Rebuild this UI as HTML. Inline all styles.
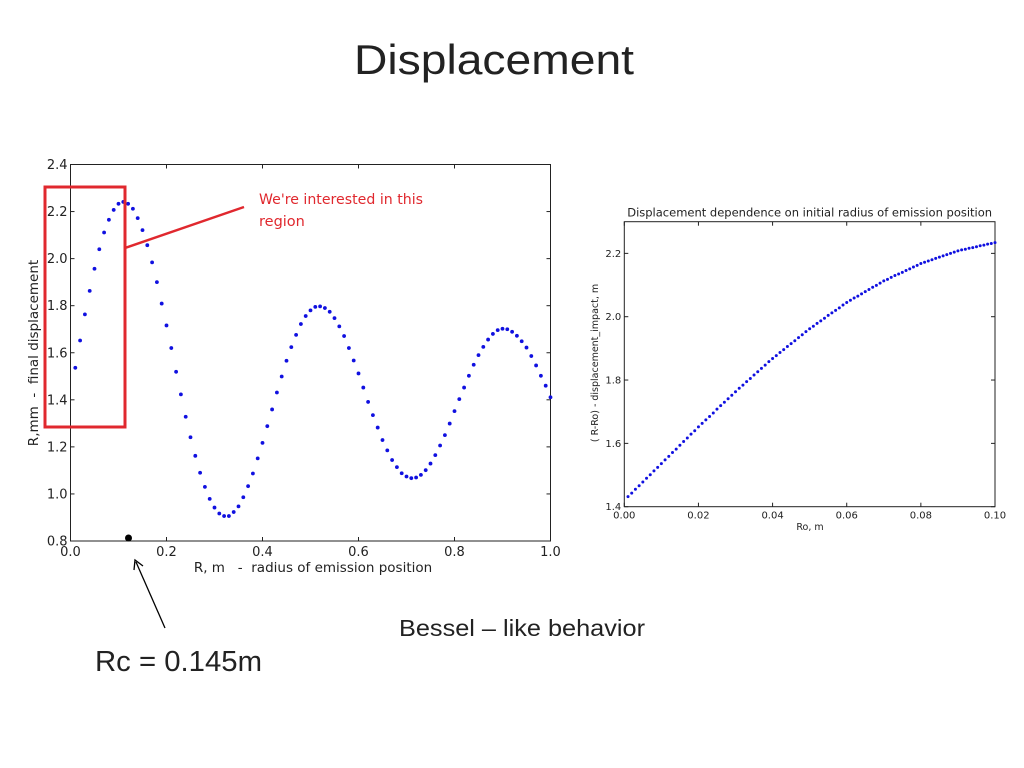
<!DOCTYPE html>
<html><head><meta charset="utf-8"><style>
html,body{margin:0;padding:0;background:#fff;width:1024px;height:768px;overflow:hidden}
svg{display:block}
text{font-family:"DejaVu Sans","Liberation Sans",sans-serif}
.big{font-family:"Liberation Sans",sans-serif}
</style></head><body>
<svg id="s" width="1024" height="768" viewBox="0 0 1024 768">
<text class="big" x="354" y="74" font-size="42" textLength="280" lengthAdjust="spacingAndGlyphs" fill="#222">Displacement</text>
<text class="big" x="399" y="636" font-size="23" textLength="246" lengthAdjust="spacingAndGlyphs" fill="#222">Bessel – like behavior</text>
<text class="big" x="95" y="671" font-size="29" textLength="167" lengthAdjust="spacingAndGlyphs" fill="#222">Rc = 0.145m</text>
<g id="left"></g>
<g id="right"></g>
<rect x="45" y="187" width="80" height="240" fill="none" stroke="#e0282e" stroke-width="3"/>
<line x1="125" y1="248" x2="244" y2="207" stroke="#e0282e" stroke-width="2.5"/>
<text x="259" y="204" font-size="14.5" textLength="164" lengthAdjust="spacingAndGlyphs" fill="#e0282e">We're interested in this</text>
<text x="259" y="226" font-size="14.5" fill="#e0282e">region</text>
<circle cx="128.5" cy="538" r="3.5" fill="#000"/>
<line x1="165" y1="628" x2="136" y2="562" stroke="#000" stroke-width="1.3"/>
<polyline points="134,570 135,560 143,566" fill="none" stroke="#000" stroke-width="1.3"/>
</svg>
<script>
const leftY = [1.536,1.652,1.763,1.863,1.957,2.040,2.111,2.165,2.207,2.233,2.241,2.233,2.212,2.172,2.121,2.057,1.984,1.900,1.809,1.716,1.620,1.519,1.423,1.328,1.241,1.162,1.090,1.030,0.979,0.942,0.917,0.906,0.906,0.923,0.947,0.986,1.033,1.087,1.151,1.217,1.288,1.359,1.431,1.499,1.566,1.624,1.676,1.722,1.756,1.780,1.795,1.797,1.790,1.774,1.747,1.712,1.671,1.620,1.567,1.512,1.452,1.391,1.335,1.282,1.229,1.185,1.144,1.114,1.088,1.074,1.067,1.070,1.081,1.101,1.129,1.165,1.206,1.250,1.299,1.352,1.403,1.452,1.502,1.549,1.590,1.625,1.656,1.680,1.696,1.702,1.700,1.689,1.672,1.649,1.622,1.586,1.546,1.502,1.460,1.411];
const leftXTicks = ["0.0","0.2","0.4","0.6","0.8","1.0"];
const leftYTicks = ["0.8","1.0","1.2","1.4","1.6","1.8","2.0","2.2","2.4"];
const rightY = [1.432,1.443,1.455,1.466,1.478,1.490,1.501,1.513,1.524,1.536,1.548,1.559,1.571,1.582,1.594,1.606,1.617,1.629,1.640,1.652,1.663,1.674,1.685,1.696,1.708,1.719,1.730,1.741,1.752,1.763,1.774,1.784,1.795,1.805,1.816,1.826,1.837,1.847,1.858,1.868,1.877,1.887,1.896,1.906,1.915,1.924,1.934,1.943,1.953,1.962,1.970,1.979,1.987,1.995,2.004,2.012,2.020,2.028,2.037,2.045,2.052,2.059,2.065,2.072,2.079,2.086,2.093,2.099,2.106,2.113,2.118,2.124,2.130,2.135,2.140,2.146,2.151,2.157,2.162,2.168,2.172,2.176,2.180,2.184,2.188,2.192,2.196,2.200,2.204,2.208,2.211,2.213,2.216,2.218,2.221,2.224,2.226,2.229,2.231,2.234];
const rightXTicks = ["0.00","0.02","0.04","0.06","0.08","0.10"];
const rightYTicks = ["1.4","1.6","1.8","2.0","2.2"];

const NS="http://www.w3.org/2000/svg";
function mk(p,tag,attrs){const e=document.createElementNS(NS,tag);for(const k in attrs)e.setAttribute(k,attrs[k]);p.appendChild(e);return e;}

function chart(g,o){
  const sx=v=>o.x0+(v-o.xmin)/(o.xmax-o.xmin)*(o.x1-o.x0);
  const sy=v=>o.y0-(v-o.ymin)/(o.ymax-o.ymin)*(o.y0-o.y1);
  const fr=mk(g,'rect',{x:o.x0,y:o.y1,width:o.x1-o.x0,height:o.y0-o.y1,fill:'#fff',stroke:'#222','stroke-width':1});
  
  
  o.xt.forEach(t=>{const x=sx(parseFloat(t));
    mk(g,'line',{x1:x,x2:x,y1:o.y0,y2:o.y0-4,stroke:'#222'});
    mk(g,'line',{x1:x,x2:x,y1:o.y1,y2:o.y1+4,stroke:'#222'});
    const tx=mk(g,'text',{x:x,y:o.y0+o.fs+2,'font-size':o.fs,'text-anchor':'middle',fill:'#222'});tx.textContent=t;
    
    });
  o.yt.forEach(t=>{const y=sy(parseFloat(t));
    mk(g,'line',{x1:o.x0,x2:o.x0+4,y1:y,y2:y,stroke:'#222'});
    mk(g,'line',{x1:o.x1,x2:o.x1-4,y1:y,y2:y,stroke:'#222'});
    const tx=mk(g,'text',{x:o.x0-3,y:y+o.fs*0.35,'font-size':o.fs,'text-anchor':'end',fill:'#222'});tx.textContent=t;
    
    });
  o.ys.forEach((v,i)=>{const c=mk(g,'circle',{cx:sx(o.xs(i)),cy:sy(v),r:o.r,fill:'#1010e0'});
    
    });
  const xl=mk(g,'text',{x:o.xlx,y:o.xly,'font-size':o.lfs,'text-anchor':'middle',fill:'#222'});xl.textContent=o.xl;
  
  
  const yl=mk(g,'text',{x:0,y:0,'font-size':o.lfs,'text-anchor':'middle',fill:'#222',transform:`translate(${o.ylx},${o.yly}) rotate(-90)`});yl.textContent=o.yl;
  
  
  if(o.title){const tt=mk(g,'text',{x:(o.x0+o.x1)/2,y:o.y1-5,'font-size':11.5,'text-anchor':'middle',fill:'#222'});tt.textContent=o.title;
    
    }
}
chart(document.getElementById('left'),{x0:70.5,x1:550.5,y0:541,y1:164.5,xmin:0,xmax:1,ymin:0.8,ymax:2.4,
  xt:leftXTicks,yt:leftYTicks,ys:leftY,xs:i=>(i+1)*0.01,r:1.9,fs:13,lfs:13.5,
  xl:"R, m\u00a0\u00a0\u00a0-\u00a0\u00a0radius of emission position",xlx:313,xly:572,yl:"R,mm\u00a0\u00a0-\u00a0\u00a0final displacement",ylx:38,yly:353});
chart(document.getElementById('right'),{x0:624.3,x1:995,y0:506.7,y1:221.7,xmin:0,xmax:0.1,ymin:1.4,ymax:2.3,
  xt:rightXTicks,yt:rightYTicks,ys:rightY,xs:i=>(i+1)*0.001,r:1.5,fs:10,lfs:9.5,
  xl:"Ro, m",xlx:810,xly:530,yl:"( R-Ro) - displacement_impact, m",ylx:598,yly:363,
  title:"Displacement dependence on initial radius of emission position"});
</script>
</body></html>
